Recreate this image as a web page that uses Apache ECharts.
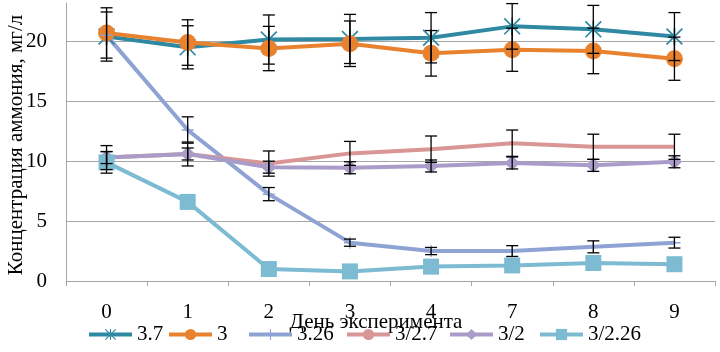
<!DOCTYPE html>
<html><head><meta charset="utf-8">
<script src="https://cdn.jsdelivr.net/npm/echarts@6/dist/echarts.min.js"></script>
<style>html,body{margin:0;padding:0;background:#fff}#c{width:720px;height:352px}</style>
</head><body><div id="c"></div>
<script>
var categories = ['0','1','2','3','4','7','8','9'];
var seriesNames = ['3.7','3','3.26','3/2.7','3/2','3/2.26'];
var s37   = [20.4, 19.5, 20.15, 20.2, 20.3, 21.25, 21.0, 20.4];
var s3    = [20.7, 19.9, 19.4, 19.8, 19.0, 19.3, 19.2, 18.55];
var s326  = [20.5, 12.6, 7.25, 3.2, 2.5, 2.5, 2.85, 3.2];
var s327  = [10.3, 10.6, 9.8, 10.65, 11.0, 11.5, 11.2, 11.2];
var s32   = [10.3, 10.6, 9.5, 9.45, 9.6, 9.85, 9.65, 9.95];
var s3226 = [9.9, 6.6, 1.0, 0.8, 1.2, 1.3, 1.5, 1.4];
var e37   = [2.05, 1.8, 2.05, 2.05, 2.1, 1.9, 2.0, 2.0];
var e3    = [2.1, 1.9, 1.85, 1.9, 1.9, 1.8, 1.9, 1.8];
var e326  = [0, 1.1, 0.55, 0.3, 0.3, 0.45, 0.5, 0.45];
var e327  = [1.0, 1.0, 1.05, 1.0, 1.1, 1.1, 1.05, 1.05];
var e32   = [0.5, 0.5, 0.5, 0.5, 0.5, 0.5, 0.5, 0.5];
var e3226 = [0.9, 0, 0, 0, 0, 0, 0, 0];
var yTicks = {min: 0, max: 23.2, interval: 5};

var colors = ['#2F89A3','#E8822F','#8EA3D4','#D99694','#A99CC8','#7DBBD3'];
var starPath = 'path://M9 0L11 0L11 20L9 20Z M0 1.4L1.4 0L20 18.6L18.6 20Z M18.6 0L20 1.4L1.4 20L0 18.6Z';
var plusPath = 'path://M0 9L20 9L20 11L0 11Z M9 2L11 2L11 18L9 18Z';
var symbols = [starPath, 'circle', plusPath, 'none', 'diamond', 'rect'];
var sizes = [17, 17, 12, 0, 15, 16];
var vals = [s37, s3, s326, s327, s32, s3226];
var errs = [e37, e3, e326, e327, e32, e3226];
var legendLeft = [87, 167, 247, 345, 448, 538];

var series = [];
for (var i = 0; i < 6; i++) {
  series.push({
    name: seriesNames[i], type: 'line', data: vals[i],
    symbol: symbols[i], symbolSize: sizes[i], showSymbol: symbols[i] !== 'none',
    lineStyle: {width: 4, color: colors[i]},
    itemStyle: {color: colors[i]},
    emphasis: {disabled: true}, animation: false, z: 2
  });
}
for (var j = 0; j < 6; j++) {
  (function(k){
    var d = vals[k].map(function(v, idx){ return [idx, v, errs[k][idx]]; });
    series.push({
      type: 'custom', name: 'err' + k, data: d, z: 5, silent: true, animation: false,
      renderItem: function(params, api){
        var x = api.value(0), v = api.value(1), e = api.value(2);
        if (!e) return {type: 'group', children: []};
        var hi = api.coord([x, v + e]), lo = api.coord([x, v - e]);
        var w = 6, st = {stroke: '#000', lineWidth: 1.3};
        return {type: 'group', children: [
          {type: 'line', shape: {x1: hi[0], y1: hi[1], x2: lo[0], y2: lo[1]}, style: st},
          {type: 'line', shape: {x1: hi[0]-w, y1: hi[1], x2: hi[0]+w, y2: hi[1]}, style: st},
          {type: 'line', shape: {x1: lo[0]-w, y1: lo[1], x2: lo[0]+w, y2: lo[1]}, style: st}
        ]};
      }
    });
  })(j);
}

var legends = seriesNames.map(function(n, i){
  return {
    data: [n], left: legendLeft[i], top: 324, itemWidth: 43, itemHeight: 14, itemGap: 0,
    lineStyle: {width: 4}, padding: 0,
    textStyle: {fontFamily: 'Liberation Serif', fontSize: 21, color: '#000'},
    selectedMode: false
  };
});

var chart = echarts.init(document.getElementById('c'), null, {renderer: 'canvas'});
chart.setOption({
  animation: false,
  color: colors,
  grid: {left: 66, right: 5, top: 3, bottom: 71, containLabel: false},
  xAxis: {
    type: 'category', data: categories, boundaryGap: true,
    axisLine: {lineStyle: {color: '#A6A6A6', width: 1}},
    axisTick: {show: true, length: 5, lineStyle: {color: '#A6A6A6'}},
    axisLabel: {fontFamily: 'Liberation Serif', fontSize: 21, color: '#000', margin: 21}
  },
  yAxis: {
    type: 'value', min: yTicks.min, max: yTicks.max, interval: yTicks.interval,
    axisLine: {show: true, lineStyle: {color: '#A6A6A6', width: 1}},
    axisTick: {show: false},
    splitLine: {lineStyle: {color: '#A6A6A6', width: 1}, showMaxLine: false},
    axisLabel: {fontFamily: 'Liberation Serif', fontSize: 21, color: '#000', margin: 19, showMaxLabel: false}
  },
  legend: legends,
  graphic: [{
    type: 'text', rotation: Math.PI / 2, x: 16, y: 145,
    style: {text: 'Концентрация аммония, мг/л', fontFamily: 'Liberation Serif', fontSize: 21,
      fill: '#000', align: 'center', verticalAlign: 'middle'}
  }, {
    type: 'text', x: 376, y: 322,
    style: {text: 'День эксперимента', fontFamily: 'Liberation Serif', fontSize: 21,
      fill: '#000', align: 'center', verticalAlign: 'middle'}
  }],
  series: series
});
</script></body></html>
